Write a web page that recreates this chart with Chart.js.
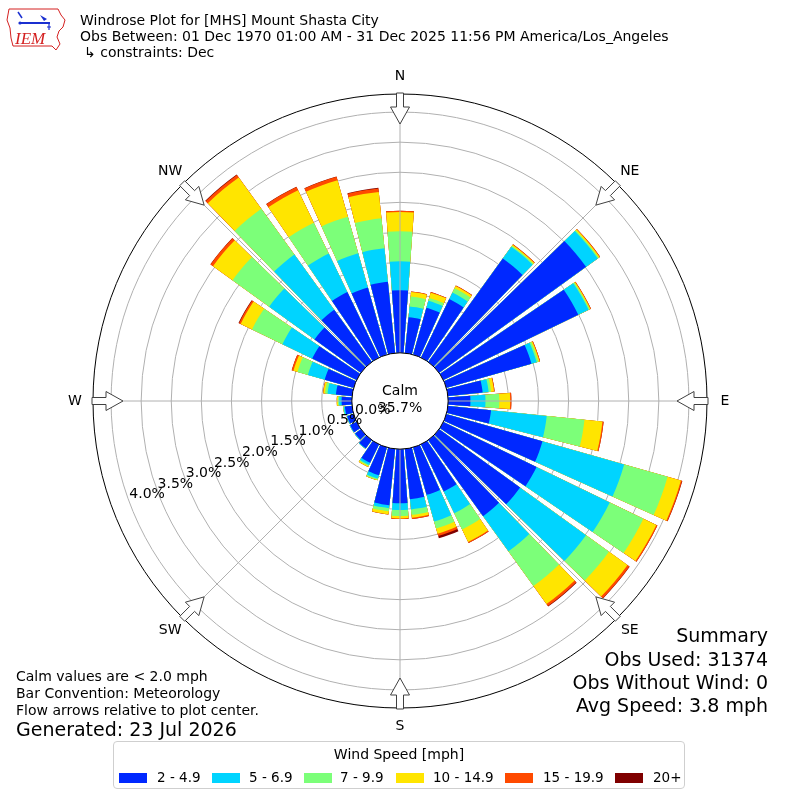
<!DOCTYPE html>
<html>
<head>
<meta charset="utf-8">
<title>Windrose MHS</title>
<script src="https://cdn.jsdelivr.net/npm/chart.js@4.4.1/dist/chart.umd.min.js"></script>
<style>
  body { margin: 0; background: #fff; }
  #page { position: relative; width: 800px; height: 800px; overflow: hidden;
          font-family: "DejaVu Sans", sans-serif; color: #000; }
  #rose { position: absolute; left: 0; top: 0; }
  .txt { position: absolute; white-space: nowrap; }
  .t14 { font-size: 14px; line-height: 16px; }
  .t19 { font-size: 19px; line-height: 22px; }
  .right { right: 32px; text-align: right; }
  #legend { position: absolute; left: 113px; top: 741px; width: 572px; height: 48px;
            border: 1px solid #cfcfcf; border-radius: 4px; box-sizing: border-box; }
  #legend .ttl { position: absolute; left: 0; right: 0; top: 4px; text-align: center;
                 font-size: 14px; line-height: 16px; }
  #legend .sw { position: absolute; top: 31px; width: 28px; height: 10px; }
  #legend .lb { position: absolute; top: 28px; font-size: 13.5px; line-height: 15px; }
</style>
</head>
<body>
<div id="page">
  <canvas id="rose" width="800" height="800"></canvas>

  <svg width="70" height="56" style="position:absolute;left:0;top:0">
    <path d="M9 9 H58 L61 15 L65 20 L63 27 L59 31 L57 37 L60 44 L56 50 L52 46 H13 L11 38 L10 28 L7 20 Z"
          fill="none" stroke="#d42020" stroke-width="1"/>
    <path d="M18 12 L22 18" stroke="#1a2fd0" stroke-width="1.5"/>
    <circle cx="20" cy="23" r="1.6" fill="#1a2fd0"/>
    <path d="M20 23 H50" stroke="#1a2fd0" stroke-width="2"/>
    <path d="M40 15 L47 19 L44 21 Z" fill="#1a2fd0"/>
    <path d="M49 24 V30 M47 27 H51" stroke="#1a2fd0" stroke-width="1.2"/>
    <text x="15" y="44" font-family="Liberation Serif" font-style="italic" font-size="17" fill="#d42020">IEM</text>
  </svg>

  <div class="txt t14" style="left:80px;top:12px">Windrose Plot for [MHS] Mount Shasta City</div>
  <div class="txt t14" style="left:80px;top:28px">Obs Between: 01 Dec 1970 01:00 AM - 31 Dec 2025 11:56 PM America/Los_Angeles</div>
  <div class="txt t14" style="left:84px;top:44px">↳ constraints: Dec</div>

  <div class="txt t14" style="left:16px;top:668px">Calm values are &lt; 2.0 mph</div>
  <div class="txt t14" style="left:16px;top:685px">Bar Convention: Meteorology</div>
  <div class="txt t14" style="left:16px;top:702px">Flow arrows relative to plot center.</div>
  <div class="txt t19" style="left:16px;top:718px">Generated: 23 Jul 2026</div>

  <div class="txt t19 right" style="top:624px">Summary</div>
  <div class="txt t19 right" style="top:648px">Obs Used: 31374</div>
  <div class="txt t19 right" style="top:671px">Obs Without Wind: 0</div>
  <div class="txt t19 right" style="top:694px">Avg Speed: 3.8 mph</div>

  <div id="legend"><div class="ttl">Wind Speed [mph]</div></div>
</div>

<script>
// --------------------------------------------------------------------------
// data: percent of obs per direction and speed bin
// --------------------------------------------------------------------------
const directions = [0, 10, 20, 30, 40, 50, 60, 70, 80, 90, 100, 110, 120, 130, 140, 150, 160, 170,
                    180, 190, 200, 210, 220, 230, 240, 250, 260, 270, 280, 290, 300, 310, 320, 330, 340, 350];

const speedBins = ['2 - 4.9', '5 - 6.9', '7 - 9.9', '10 - 14.9', '15 - 19.9', '20+'];
const binColors = ['#0028ff', '#00d4ff', '#7cff79', '#ffe500', '#ff4a00', '#7f0000'];

const pct2to5 = [1.04, 0.60, 0.81, 1.08, 2.12, 3.01, 2.49, 1.47, 0.58, 0.37, 0.72, 1.66,
                 1.72, 1.66, 1.56, 0.87, 0.82, 0.84, 0.90, 0.94, 0.48, 0.34, 0.17, 0.12,
                 0.12, 0.11, 0.12, 0.17, 0.27, 0.50, 0.82, 0.95, 1.07, 1.21, 1.16, 1.19];
const pct5to7 = [0.48, 0.18, 0.12, 0.12, 0.24, 0.24, 0.19, 0.09, 0.10, 0.25, 0.93, 1.41,
                 1.35, 1.35, 0.72, 0.40, 0.46, 0.17, 0.11, 0.05, 0.06, 0.04, 0.01, 0.01,
                 0.01, 0.01, 0.02, 0.04, 0.14, 0.29, 0.55, 0.93, 1.13, 0.71, 0.59, 0.56];
const pct7to10 = [0.50, 0.165, 0.05, 0.08, 0.02, 0.02, 0.02, 0.03, 0.04, 0.23, 0.63, 0.75,
                  0.62, 0.47, 0.71, 0.30, 0.12, 0.09, 0.10, 0.05, 0.02, 0.02, 0, 0,
                  0, 0, 0.01, 0.02, 0.04, 0.18, 0.56, 0.75, 0.94, 0.57, 0.63, 0.50];
const pct10to15 = [0.32, 0.075, 0.09, 0.04, 0.02, 0.02, 0.015, 0.02, 0.05, 0.18, 0.30, 0.23,
                   0.24, 0.38, 0.37, 0.23, 0.09, 0.05, 0.04, 0.05, 0.01, 0.02, 0, 0,
                   0, 0, 0, 0.02, 0.03, 0.07, 0.21, 0.40, 0.64, 0.60, 0.63, 0.44];
const pct15to20 = [0.02, 0.01, 0.01, 0.01, 0.01, 0.01, 0.01, 0.01, 0.01, 0.02, 0.02, 0.02,
                   0.02, 0.04, 0.04, 0.02, 0.04, 0.02, 0.01, 0.005, 0, 0, 0, 0,
                   0, 0, 0, 0, 0.005, 0.03, 0.03, 0.05, 0.05, 0.06, 0.06, 0.06];
const pct20up = [0, 0, 0, 0, 0, 0, 0, 0, 0, 0, 0, 0.005,
                 0, 0.005, 0.01, 0, 0.04, 0, 0, 0, 0, 0, 0, 0,
                 0, 0, 0, 0, 0, 0, 0.01, 0.005, 0.01, 0.005, 0.005, 0.01];

const calmPct = 35.7;
const ringValues = [0, 0.5, 1, 1.5, 2, 2.5, 3, 3.5, 4, 4.3];
const ringLabels = ['0.0%', '0.5%', '1.0%', '1.5%', '2.0%', '2.5%', '3.0%', '3.5%', '4.0%'];
const compassLabels = ['N', 'NE', 'E', 'SE', 'S', 'SW', 'W', 'NW'];

// geometry of the rose
const BAR_DEG = 8.4;              // each 10 degree sector: bar + gap
const GAP_DEG = 10 - BAR_DEG;
const R_MIN = -0.8;               // pushes 0% out to the calm circle
const R_MAX = 4.3;
const RING_LABEL_BEARING = 249.5;

// --------------------------------------------------------------------------
// stacked totals, one dataset per speed bin, bars interleaved with gap slots
// --------------------------------------------------------------------------
const binValues = [pct2to5, pct5to7, pct7to10, pct10to15, pct15to20, pct20up];

const slotLabels = [];
directions.forEach(d => { slotLabels.push(d + '°'); slotLabels.push(''); });

let running = directions.map(() => 0);
const datasets = binValues.map((vals, b) => {
    running = running.map((sum, i) => sum + vals[i]);
    const data = [];
    running.forEach(v => { data.push(+v.toFixed(3)); data.push(0); });
    return {
        label: speedBins[b],
        data: data,
        backgroundColor: binColors[b],
        borderWidth: 0,
        angle: c => (c.dataIndex % 2 === 0 ? BAR_DEG : GAP_DEG)
    };
});

// html legend in the matplotlib box
const legend = document.getElementById('legend');
const swatchLeft = [5, 98, 190, 282, 391, 501];
const labelLeft = [43, 135, 226, 319, 429, 539];
speedBins.forEach((name, i) => {
    const sw = document.createElement('div');
    sw.className = 'sw';
    sw.style.left = swatchLeft[i] + 'px';
    sw.style.background = binColors[i];
    legend.appendChild(sw);
    const lb = document.createElement('div');
    lb.className = 'lb';
    lb.style.left = labelLeft[i] + 'px';
    lb.textContent = name;
    legend.appendChild(lb);
});

// --------------------------------------------------------------------------
// decorations: spokes, calm circle, ring labels, compass arrows
// --------------------------------------------------------------------------
const roseDecor = {
    id: 'roseDecor',
    afterDraw(chart) {
        const s = chart.scales.r;
        const ctx = chart.ctx;
        const cx = s.xCenter, cy = s.yCenter;
        const r0 = s.getDistanceFromCenterForValue(0);
        const rOut = s.getDistanceFromCenterForValue(R_MAX);
        const rad = b => b * Math.PI / 180;
        const at = (bearing, dist, side = 0) => {
            const a = rad(bearing);
            return [cx + Math.sin(a) * dist + Math.cos(a) * side,
                    cy - Math.cos(a) * dist + Math.sin(a) * side];
        };

        ctx.save();

        // gray spokes every 45 degrees
        ctx.strokeStyle = '#b0b0b0';
        ctx.lineWidth = 1;
        for (let k = 0; k < 8; k++) {
            const p1 = at(k * 45, r0), p2 = at(k * 45, rOut);
            ctx.beginPath();
            ctx.moveTo(p1[0], p1[1]);
            ctx.lineTo(p2[0], p2[1]);
            ctx.stroke();
        }

        // calm circle
        ctx.beginPath();
        ctx.arc(cx, cy, r0, 0, Math.PI * 2);
        ctx.fillStyle = '#fff';
        ctx.fill();
        ctx.strokeStyle = '#000';
        ctx.stroke();

        ctx.fillStyle = '#000';
        ctx.font = '14px "DejaVu Sans"';
        ctx.textAlign = 'center';
        ctx.textBaseline = 'middle';
        ctx.fillText('Calm', cx, cy - 10);
        ctx.fillText(calmPct.toFixed(1) + '%', cx, cy + 7);

        // percent labels along one bearing
        ctx.font = '14px "DejaVu Sans"';
        ctx.textAlign = 'left';
        ctx.textBaseline = 'alphabetic';
        ringLabels.forEach((txt, i) => {
            const p = at(RING_LABEL_BEARING, s.getDistanceFromCenterForValue(ringValues[i]));
            ctx.fillText(txt, p[0], p[1] - 4);
        });

        // compass arrows pointing at the center, with labels
        const arrow = [[308, -3.5], [294, -3.5], [294, -9.5], [277, 0], [294, 9.5], [294, 3.5], [308, 3.5]];
        ctx.font = '14px "DejaVu Sans"';
        ctx.textAlign = 'center';
        ctx.textBaseline = 'middle';
        compassLabels.forEach((name, k) => {
            const b = k * 45;
            ctx.beginPath();
            arrow.forEach((pt, j) => {
                const p = at(b, pt[0], pt[1]);
                if (j === 0) ctx.moveTo(p[0], p[1]); else ctx.lineTo(p[0], p[1]);
            });
            ctx.closePath();
            ctx.fillStyle = '#fff';
            ctx.fill();
            ctx.strokeStyle = '#404040';
            ctx.lineWidth = 1;
            ctx.stroke();
            const lp = at(b, 325);
            ctx.fillStyle = '#000';
            ctx.fillText(name, lp[0], lp[1]);
        });

        ctx.restore();
    }
};

new Chart(document.getElementById('rose'), {
    type: 'polarArea',
    data: { labels: slotLabels, datasets: datasets },
    options: {
        responsive: false,
        devicePixelRatio: 1,
        animation: false,
        events: [],
        layout: { padding: { left: 93, right: 93, top: 94, bottom: 92 } },
        plugins: {
            legend: { display: false },
            tooltip: { enabled: false }
        },
        scales: {
            r: {
                min: R_MIN,
                max: R_MAX,
                beginAtZero: false,
                startAngle: -BAR_DEG / 2,
                z: 1,
                afterBuildTicks: scale => { scale.ticks = ringValues.map(v => ({ value: v })); },
                ticks: { display: false },
                pointLabels: { display: false },
                angleLines: { display: false },
                grid: {
                    circular: true,
                    lineWidth: 1,
                    color: c => (c.tick && c.tick.value === R_MAX ? '#000' : '#b0b0b0')
                }
            }
        }
    },
    plugins: [roseDecor]
});
</script>
</body>
</html>
